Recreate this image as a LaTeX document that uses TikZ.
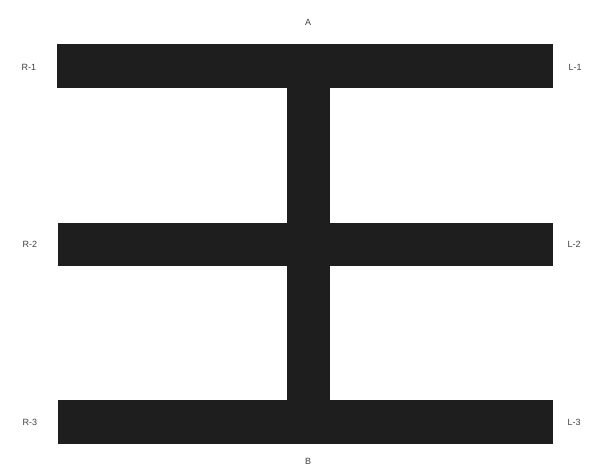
\documentclass[tikz,border=0pt]{standalone}
\usepackage{fontspec}
\setmainfont{Liberation Sans}
\definecolor{barcol}{HTML}{1E1E1E}
\begin{document}
\begin{tikzpicture}[x=1pt,y=-1pt,
  bar/.style={fill=barcol,draw=none},
  lbl/.style={font=\fontsize{9}{10}\selectfont,text=black!75,inner sep=0pt}]
\useasboundingbox[fill=white] (0,0) rectangle (597,472);
\fill[bar] (57,44) rectangle (553,88);
\fill[bar] (58,223) rectangle (553,266);
\fill[bar] (58,400) rectangle (553,444);
\fill[bar] (287,86) rectangle (330,402);
\node[lbl] (A) at (308,22) {A};
\node[lbl] (B) at (308,461) {B};
\node[lbl] (R1) at (29,67) {R-1};
\node[lbl] (R2) at (30,244) {R-2};
\node[lbl] (R3) at (30,422) {R-3};
\node[lbl] (L1) at (575,67) {L-1};
\node[lbl] (L2) at (574,244) {L-2};
\node[lbl] (L3) at (574,422) {L-3};
\end{tikzpicture}
\end{document}
